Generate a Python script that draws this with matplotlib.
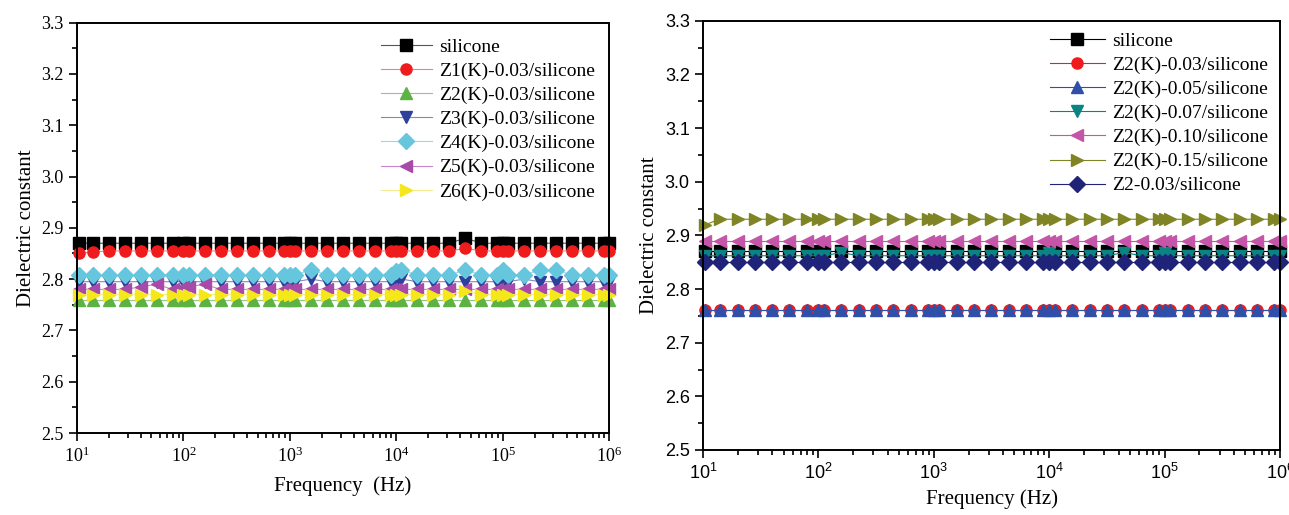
import numpy as np
import matplotlib
matplotlib.use("Agg")
import matplotlib.pyplot as plt
from matplotlib.ticker import MultipleLocator, LogLocator, NullFormatter, FormatStrFormatter

# frequencies (Hz) shared by both panels
freq = [10.5, 14, 20, 28, 40, 56, 79, 100, 112, 158, 224, 316, 447, 631, 891, 1000, 1120, 1580,
        2240, 3160, 4470, 6310, 8910, 10000, 11200, 15800, 22400, 31600, 44700, 63100, 89100,
        100000, 112000, 158000, 224000, 316000, 447000, 631000, 891000, 1000000]

# left panel: different fillers at 0.03
L_silicone = [2.87, 2.87, 2.87, 2.87, 2.87, 2.87, 2.87, 2.87, 2.87, 2.87, 2.87, 2.87, 2.87, 2.87,
              2.87, 2.87, 2.87, 2.87, 2.87, 2.87, 2.87, 2.87, 2.87, 2.87, 2.87, 2.87, 2.87, 2.87,
              2.88, 2.87, 2.87, 2.87, 2.87, 2.87, 2.87, 2.87, 2.87, 2.87, 2.87, 2.87]
L_z1 = [2.85, 2.853, 2.855, 2.855, 2.855, 2.855, 2.855, 2.855, 2.855, 2.855, 2.855, 2.855, 2.855,
        2.855, 2.855, 2.855, 2.855, 2.855, 2.855, 2.855, 2.855, 2.855, 2.855, 2.855, 2.855, 2.855,
        2.855, 2.855, 2.86, 2.855, 2.855, 2.855, 2.855, 2.855, 2.855, 2.855, 2.855, 2.855, 2.855, 2.855]
L_z2 = [2.76, 2.76, 2.76, 2.76, 2.76, 2.76, 2.76, 2.76, 2.76, 2.76, 2.76, 2.76, 2.76, 2.76, 2.76,
        2.76, 2.76, 2.76, 2.76, 2.76, 2.76, 2.76, 2.76, 2.76, 2.76, 2.76, 2.76, 2.76, 2.76, 2.76,
        2.76, 2.76, 2.76, 2.76, 2.76, 2.76, 2.76, 2.76, 2.76, 2.76]
L_z3 = [2.795, 2.795, 2.795, 2.795, 2.795, 2.795, 2.795, 2.795, 2.795, 2.795, 2.795, 2.795, 2.795,
        2.795, 2.795, 2.795, 2.795, 2.8, 2.795, 2.795, 2.795, 2.795, 2.795, 2.795, 2.8, 2.795,
        2.795, 2.795, 2.795, 2.795, 2.795, 2.795, 2.795, 2.8, 2.795, 2.795, 2.795, 2.795, 2.795, 2.795]
L_z4 = [2.808, 2.808, 2.808, 2.808, 2.808, 2.808, 2.808, 2.808, 2.808, 2.808, 2.808, 2.808, 2.808,
        2.808, 2.808, 2.808, 2.808, 2.818, 2.808, 2.808, 2.808, 2.808, 2.808, 2.815, 2.818, 2.808,
        2.808, 2.808, 2.818, 2.808, 2.808, 2.818, 2.808, 2.808, 2.818, 2.818, 2.808, 2.808, 2.808, 2.808]
L_z5 = [2.78, 2.78, 2.78, 2.78, 2.785, 2.79, 2.78, 2.785, 2.785, 2.79, 2.78, 2.78, 2.78, 2.78,
        2.78, 2.78, 2.78, 2.78, 2.78, 2.78, 2.78, 2.78, 2.78, 2.78, 2.78, 2.78, 2.78, 2.78, 2.78,
        2.78, 2.78, 2.78, 2.78, 2.78, 2.78, 2.78, 2.78, 2.78, 2.78, 2.78]
L_z6 = [2.77, 2.77, 2.77, 2.77, 2.77, 2.77, 2.77, 2.77, 2.77, 2.77, 2.77, 2.77, 2.77, 2.77, 2.77,
        2.77, 2.77, 2.77, 2.77, 2.77, 2.77, 2.77, 2.77, 2.77, 2.77, 2.77, 2.77, 2.77, 2.777, 2.77,
        2.77, 2.77, 2.77, 2.77, 2.77, 2.77, 2.77, 2.77, 2.77, 2.77]

# right panel: Z2(K) at different loadings
R_silicone = [2.87, 2.87, 2.87, 2.87, 2.87, 2.87, 2.87, 2.87, 2.87, 2.87, 2.87, 2.87, 2.87, 2.87,
              2.87, 2.87, 2.87, 2.87, 2.87, 2.87, 2.87, 2.87, 2.87, 2.87, 2.87, 2.87, 2.87, 2.87,
              2.87, 2.87, 2.87, 2.87, 2.87, 2.87, 2.87, 2.87, 2.87, 2.87, 2.87, 2.87]
R_003 = [2.76, 2.76, 2.76, 2.76, 2.76, 2.76, 2.76, 2.76, 2.76, 2.76, 2.76, 2.76, 2.76, 2.76, 2.76,
         2.76, 2.76, 2.76, 2.76, 2.76, 2.76, 2.76, 2.76, 2.76, 2.76, 2.76, 2.76, 2.76, 2.76, 2.76,
         2.76, 2.76, 2.76, 2.76, 2.76, 2.76, 2.76, 2.76, 2.76, 2.76]
R_005 = [2.761, 2.761, 2.761, 2.761, 2.761, 2.761, 2.761, 2.761, 2.761, 2.761, 2.761, 2.761, 2.761,
         2.761, 2.761, 2.761, 2.761, 2.761, 2.761, 2.761, 2.761, 2.761, 2.761, 2.761, 2.761, 2.761,
         2.761, 2.761, 2.761, 2.761, 2.761, 2.761, 2.761, 2.761, 2.761, 2.761, 2.761, 2.761, 2.761, 2.761]
R_007 = [2.862, 2.862, 2.862, 2.862, 2.862, 2.862, 2.862, 2.862, 2.862, 2.868, 2.862, 2.862, 2.862,
         2.862, 2.862, 2.862, 2.862, 2.862, 2.862, 2.862, 2.862, 2.862, 2.862, 2.868, 2.862, 2.862,
         2.862, 2.862, 2.868, 2.862, 2.862, 2.868, 2.862, 2.862, 2.862, 2.862, 2.862, 2.862, 2.862, 2.862]
R_010 = [2.89, 2.89, 2.89, 2.89, 2.89, 2.89, 2.89, 2.89, 2.89, 2.89, 2.89, 2.89, 2.89, 2.89, 2.89,
         2.89, 2.89, 2.89, 2.89, 2.89, 2.89, 2.89, 2.89, 2.89, 2.89, 2.89, 2.89, 2.89, 2.89, 2.89,
         2.89, 2.89, 2.89, 2.89, 2.89, 2.89, 2.89, 2.89, 2.89, 2.89]
R_015 = [2.92, 2.93, 2.93, 2.93, 2.93, 2.93, 2.93, 2.93, 2.93, 2.93, 2.93, 2.93, 2.93, 2.93, 2.93,
         2.93, 2.93, 2.93, 2.93, 2.93, 2.93, 2.93, 2.93, 2.93, 2.93, 2.93, 2.93, 2.93, 2.93, 2.93,
         2.93, 2.93, 2.93, 2.93, 2.93, 2.93, 2.93, 2.93, 2.93, 2.93]
R_z2 = [2.85, 2.85, 2.85, 2.85, 2.85, 2.85, 2.85, 2.85, 2.85, 2.85, 2.85, 2.85, 2.85, 2.85, 2.85,
        2.85, 2.85, 2.85, 2.85, 2.85, 2.85, 2.85, 2.85, 2.85, 2.85, 2.85, 2.85, 2.85, 2.85, 2.85,
        2.85, 2.85, 2.85, 2.85, 2.85, 2.85, 2.85, 2.85, 2.85, 2.85]

left_series = [
    ("silicone", L_silicone, "s", "#000000", "#555555"),
    ("Z1(K)-0.03/silicone", L_z1, "o", "#ee1c1c", "#f08080"),
    ("Z2(K)-0.03/silicone", L_z2, "^", "#5cb344", "#90c880"),
    ("Z3(K)-0.03/silicone", L_z3, "v", "#2e3f9c", "#8088c0"),
    ("Z4(K)-0.03/silicone", L_z4, "D", "#66c6de", "#99d8e8"),
    ("Z5(K)-0.03/silicone", L_z5, "<", "#a84aa8", "#c888c8"),
    ("Z6(K)-0.03/silicone", L_z6, ">", "#f4e81a", "#f4ec90"),
]
right_series = [
    ("silicone", R_silicone, "s", "#000000", "#000000"),
    ("Z2(K)-0.03/silicone", R_003, "o", "#ee1c1c", "#ee1c1c"),
    ("Z2(K)-0.05/silicone", R_005, "^", "#2f4fa8", "#2f4fa8"),
    ("Z2(K)-0.07/silicone", R_007, "v", "#0a8482", "#0a8482"),
    ("Z2(K)-0.10/silicone", R_010, "<", "#c455a8", "#c455a8"),
    ("Z2(K)-0.15/silicone", R_015, ">", "#7f8424", "#7f8424"),
    ("Z2-0.03/silicone", R_z2, "D", "#1f2478", "#1f2478"),
]

SERIF = ["Liberation Serif", "DejaVu Serif"]
SANS = ["Liberation Sans", "DejaVu Sans"]

fig = plt.figure(figsize=(12.89, 5.15), dpi=100)
ax1 = fig.add_axes([77 / 1289, 1 - 433 / 515, (609 - 77) / 1289, (433 - 22.7) / 515])
ax2 = fig.add_axes([703 / 1289, 1 - 450 / 515, (1280 - 703) / 1289, (450 - 20.7) / 515])


def setup(ax, tick_family, xlabel, pad):
    ax.set_xscale("log")
    ax.set_xlim(10, 1e6)
    ax.set_ylim(2.5, 3.3)
    ax.yaxis.set_major_locator(MultipleLocator(0.1))
    ax.yaxis.set_minor_locator(MultipleLocator(0.05))
    ax.yaxis.set_major_formatter(FormatStrFormatter("%.1f"))
    ax.xaxis.set_major_locator(LogLocator(base=10, numticks=10))
    ax.xaxis.set_minor_locator(LogLocator(base=10, subs=np.arange(2, 10), numticks=20))
    ax.xaxis.set_minor_formatter(NullFormatter())
    ax.tick_params(which="both", direction="out", top=False, right=False, width=1.2)
    ax.tick_params(which="major", length=6, labelsize=13)
    ax.tick_params(which="minor", length=3.5)
    for lab in ax.get_xticklabels() + ax.get_yticklabels():
        lab.set_family(tick_family)
    for sp in ax.spines.values():
        sp.set_linewidth(1.4)
    ax.set_xlabel(xlabel, family=SERIF, fontsize=15, labelpad=pad)
    ax.set_ylabel("Dielectric constant", family=SERIF, fontsize=15, labelpad=4)


for name, vals, m, c, lc in left_series:
    ax1.plot(freq, vals, marker=m, color=lc, mfc=c, mec=c, ms=8, lw=0.8, label=name, clip_on=False)
for name, vals, m, c, lc in right_series:
    ax2.plot(freq, vals, marker=m, color=lc, mfc=c, mec=c, ms=8, lw=0.8, label=name, clip_on=False)

setup(ax1, SERIF, "Frequency  (Hz)", 8)
setup(ax2, SANS, "Frequency (Hz)", 4)

ax1.legend(loc="upper right", bbox_to_anchor=(1.0, 0.995), frameon=False,
           prop={"family": SERIF, "size": 14}, handlelength=2.6, handletextpad=0.4,
           labelspacing=0.33, borderaxespad=0.3)
ax2.legend(loc="upper right", bbox_to_anchor=(1.0, 1.0), frameon=False,
           prop={"family": SERIF, "size": 14}, handlelength=2.8, handletextpad=0.4,
           labelspacing=0.33, borderaxespad=0.2)

fig.savefig("out.png", dpi=100)
